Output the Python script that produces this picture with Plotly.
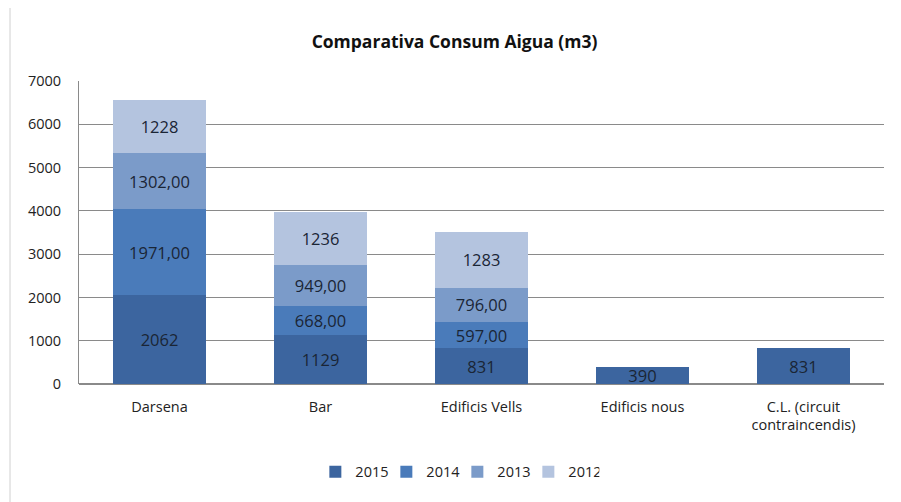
import plotly.graph_objects as go

categories = ["Darsena", "Bar", "Edificis Vells", "Edificis nous", "C.L. (circuit<br>contraincendis)"]
years = ["2015", "2014", "2013", "2012"]

val_2015 = [2062, 1129, 831, 390, 831]
val_2014 = [1971, 668, 597, 0, 0]
val_2013 = [1302, 949, 796, 0, 0]
val_2012 = [1228, 1236, 1283, 0, 0]

lab_2015 = ["2062", "1129", "831", "390", "831"]
lab_2014 = ["1971,00", "668,00", "597,00", "", ""]
lab_2013 = ["1302,00", "949,00", "796,00", "", ""]
lab_2012 = ["1228", "1236", "1283", "", ""]

colors = ["#3C659F", "#4A7BBA", "#7B9BC9", "#B4C4DF"]

# page has an 8px body margin, so the figure is sized to what stays visible
W, H = 893, 494
L, R, T, B = 71, 17, 73, 118

fig = go.Figure()
for name, vals, labs, col in zip(years, [val_2015, val_2014, val_2013, val_2012],
                                 [lab_2015, lab_2014, lab_2013, lab_2012], colors):
    fig.add_trace(go.Bar(
        x=categories, y=vals, name=name, marker_color=col,
        marker_line_width=0,
        text=labs, textposition="inside", insidetextanchor="middle",
        textfont=dict(color="#1A2535", size=16.5, family="Open Sans"),
        textangle=0, constraintext="none", cliponaxis=False,
    ))

# outer chart frame
px_w, px_h = W - L - R, H - T - B
fig.add_shape(type="rect", xref="paper", yref="paper",
              x0=(2 - L) / px_w, x1=(W + 20 - L) / px_w,
              y0=-(H + 20 - T - px_h) / px_h, y1=(H - T - 1) / px_h,
              line=dict(color="#D0D0D0", width=1), fillcolor="rgba(0,0,0,0)", layer="below")

fig.update_layout(
    width=W, height=H,
    margin=dict(l=L, r=R, t=T, b=B),
    barmode="stack", bargap=0.42,
    plot_bgcolor="white", paper_bgcolor="white",
    font=dict(family="Open Sans", size=14, color="#222"),
    title=dict(text="<b>Comparativa Consum Aigua (m3)</b>", x=0.5, xanchor="center",
               y=1 - 34 / H, yanchor="middle", font=dict(size=17.5, color="#111")),
    xaxis=dict(showline=False, ticks="", tickfont=dict(size=14.5), showgrid=False,
               ticklabelstandoff=12),
    yaxis=dict(range=[0, 7000], dtick=1000, showgrid=True, gridcolor="#8A8A8A",
               gridwidth=1, showline=True, linecolor="#8A8A8A", ticks="",
               tickfont=dict(size=14.5), zeroline=True, zerolinecolor="#8A8A8A",
               ticklabelstandoff=14),
    legend=dict(orientation="h", x=0.47, xanchor="center", y=-0.29, yanchor="middle",
                font=dict(size=14.5), itemwidth=30, traceorder="normal",
                entrywidth=26, entrywidthmode="pixels"),
)

fig.write_html("out.html")
